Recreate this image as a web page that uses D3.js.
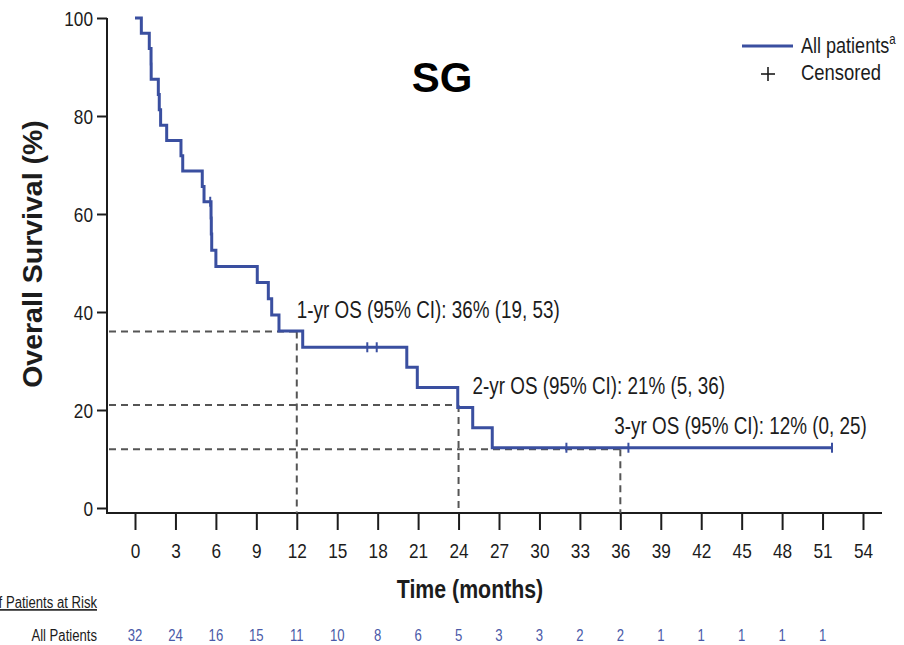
<!DOCTYPE html>
<html>
<head>
<meta charset="utf-8">
<script src="https://cdn.jsdelivr.net/npm/d3@7/dist/d3.min.js"></script>
<style>
  html, body { margin: 0; padding: 0; background: #fff; }
  svg { display: block; font-family: "Liberation Sans", Arial, sans-serif; }
</style>
</head>
<body>
<svg id="chart" width="904" height="645"></svg>
<script>
// Kaplan–Meier overall survival estimate (months, %)
const kmTime = [0, 0.47, 1.06, 1.19, 1.2, 1.73, 1.8, 1.9, 2.35, 3.41, 3.54, 4.99, 5.12, 5.64, 5.66, 5.69, 6.0,
                9.07, 9.89, 10.14, 10.68, 12.44, 20.16, 20.94, 23.94, 25.05, 26.5];
const kmSurv = [100, 96.9, 93.8, 90.6, 87.5, 84.4, 81.3, 78.1, 75.0, 71.9, 68.8, 65.6, 62.5, 59.2, 55.9, 52.6, 49.3,
                46.0, 42.7, 39.4, 36.1, 32.8, 28.7, 24.6, 20.5, 16.4, 12.3];
const lastFollowUp = 51.7;

// Censored observations (months)
const censorTimes = [5.58, 17.23, 17.93, 32.0, 36.6, 51.7];

// Landmark estimates
const landmarkMonths = [12, 24, 36];
const landmarkOS = [36, 21, 12];
const landmarkLabels = ["1-yr OS (95% CI): 36% (19, 53)", "2-yr OS (95% CI): 21% (5, 36)", "3-yr OS (95% CI): 12% (0, 25)"];

// Axis ticks
const xTicks = d3.range(0, 55, 3);
const yTicks = [0, 20, 40, 60, 80, 100];

// Number at risk
const atRiskTimes = [0, 3, 6, 9, 12, 15, 18, 21, 24, 27, 30, 33, 36, 39, 42, 45, 48, 51];
const atRiskCounts = [32, 24, 16, 15, 11, 10, 8, 6, 5, 3, 3, 2, 2, 1, 1, 1, 1, 1];

const BLUE = "#3A4FA0";
const INK = "#1c1c1c";
const NARROW = 0.82;

const svg = d3.select("#chart");
const x = d3.scaleLinear().domain([0, 54]).range([135, 863]);
const y = d3.scaleLinear().domain([0, 100]).range([508, 18]);
const axisY = 513, axisX = 107;

// condensed text helper
function narrowText(parent, tx, ty, str, opts = {}) {
  const g = parent.append("g").attr("transform", `translate(${tx},${ty}) scale(${NARROW},1)`);
  const t = g.append("text")
    .attr("text-anchor", opts.anchor || "start")
    .attr("font-size", opts.size || 20)
    .attr("font-weight", opts.weight || "normal")
    .attr("fill", opts.fill || INK)
    .text(str);
  return t;
}

// Axes
const xAxis = d3.axisBottom(x).tickValues(xTicks).tickSize(17).tickSizeOuter(0).tickFormat(d3.format("d"));
const gx = svg.append("g").attr("transform", `translate(0,${axisY})`).call(xAxis);
gx.select(".domain").remove();
gx.selectAll(".tick line").attr("stroke", INK).attr("stroke-width", 2);
gx.selectAll(".tick text").remove();
gx.selectAll(".tick").each(function(d) {
  narrowText(d3.select(this), 0, 45, d, { anchor: "middle", size: 21 });
});

const yAxis = d3.axisLeft(y).tickValues(yTicks).tickSize(10).tickSizeOuter(0);
const gy = svg.append("g").attr("transform", `translate(${axisX},0)`).call(yAxis);
gy.select(".domain").remove();
gy.selectAll(".tick line").attr("stroke", INK).attr("stroke-width", 2);
gy.selectAll(".tick text").remove();
gy.selectAll(".tick").each(function(d) {
  narrowText(d3.select(this), -14, 7.5, d, { anchor: "end", size: 21 });
});

svg.append("line").attr("x1", axisX).attr("x2", axisX).attr("y1", y(100)).attr("y2", axisY + 1)
  .attr("stroke", INK).attr("stroke-width", 2);
svg.append("line").attr("x1", axisX - 1).attr("x2", 882).attr("y1", axisY).attr("y2", axisY)
  .attr("stroke", INK).attr("stroke-width", 2);

// Landmark reference lines
const dash = svg.append("g").attr("stroke", "#555").attr("stroke-width", 2).attr("stroke-dasharray", "7,5").attr("fill", "none");
landmarkMonths.forEach((m, i) => {
  dash.append("line").attr("x1", axisX + 2).attr("x2", x(m)).attr("y1", y(landmarkOS[i])).attr("y2", y(landmarkOS[i]));
  dash.append("line").attr("x1", x(m)).attr("x2", x(m)).attr("y1", y(landmarkOS[i])).attr("y2", axisY);
});

// Survival curve
const curvePts = kmTime.map((t, i) => [t, kmSurv[i]]);
curvePts.push([lastFollowUp, kmSurv[kmSurv.length - 1]]);
const line = d3.line().x(d => x(d[0])).y(d => y(d[1])).curve(d3.curveStepAfter);
svg.append("path").datum(curvePts).attr("d", line)
  .attr("fill", "none").attr("stroke", BLUE).attr("stroke-width", 3);

// Censor marks
function survAt(t) {
  let s = 100;
  for (let i = 0; i < kmTime.length; i++) if (kmTime[i] <= t) s = kmSurv[i];
  return s;
}
svg.append("g").selectAll("line").data(censorTimes).join("line")
  .attr("x1", d => x(d)).attr("x2", d => x(d))
  .attr("y1", d => y(survAt(d)) - 5).attr("y2", d => y(survAt(d)) + 5)
  .attr("stroke", BLUE).attr("stroke-width", 2);

// Landmark annotations
const annoOffsets = [[0, -14], [14, -11], [-6, -15]];
landmarkMonths.forEach((m, i) => {
  narrowText(svg, x(m) + annoOffsets[i][0], y(landmarkOS[i]) + annoOffsets[i][1], landmarkLabels[i], { size: 23 });
});

// Title
svg.append("text").attr("x", 442).attr("y", 92).attr("text-anchor", "middle")
  .attr("font-size", 42).attr("font-weight", "bold").attr("fill", "#000").text("SG");

// Axis titles
svg.append("text").attr("transform", "translate(42,254) rotate(-90)").attr("text-anchor", "middle")
  .attr("font-size", 28.5).attr("font-weight", "bold").attr("fill", INK).text("Overall Survival (%)");
narrowText(svg, 470, 598, "Time (months)", { anchor: "middle", size: 26, weight: "bold" });

// Legend
svg.append("line").attr("x1", 742).attr("x2", 793).attr("y1", 46).attr("y2", 46)
  .attr("stroke", BLUE).attr("stroke-width", 3);
const lg = narrowText(svg, 801, 53, "All patients", { size: 22 });
lg.append("tspan").attr("font-size", 14).attr("dy", -9).text("a");
svg.append("g").attr("stroke", INK).attr("stroke-width", 1.6)
  .call(g => {
    g.append("line").attr("x1", 761).attr("x2", 775).attr("y1", 74).attr("y2", 74);
    g.append("line").attr("x1", 768).attr("x2", 768).attr("y1", 67).attr("y2", 81);
  });
narrowText(svg, 801, 80, "Censored", { size: 22.5 });

// Number at risk table
const hdr = narrowText(svg, 97, 608, "No. of Patients at Risk", { anchor: "end", size: 16 });
hdr.attr("text-decoration", "underline");
narrowText(svg, 97, 641, "All Patients", { anchor: "end", size: 16 });
atRiskTimes.forEach((t, i) => {
  narrowText(svg, x(t), 641, atRiskCounts[i], { anchor: "middle", size: 16, fill: "#4A5AA8" });
});
</script>
</body>
</html>
